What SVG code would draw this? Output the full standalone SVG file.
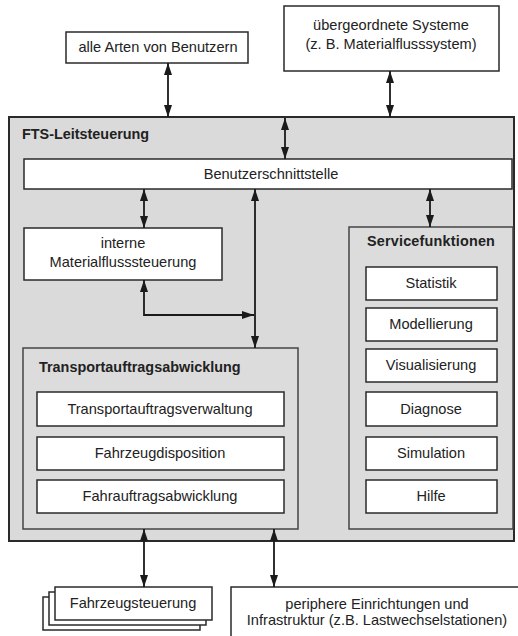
<svg xmlns="http://www.w3.org/2000/svg" width="518" height="636" viewBox="0 0 518 636">
<defs>
<marker id="ah" markerWidth="12" markerHeight="8" refX="12" refY="4" orient="auto-start-reverse" markerUnits="userSpaceOnUse">
<path d="M0,0 L12,4 L0,8 z" fill="#1a1a1a"/>
</marker>
<style>
.box{fill:#fff;stroke:#2a2a2a;stroke-width:1.5}
.grp{fill:#dcdcdc;stroke:#444;stroke-width:1.5}
.main{fill:#dadada;stroke:#2a2a2a;stroke-width:2}
.t{font-family:"Liberation Sans",Arial,sans-serif;font-size:14.6px;fill:#222;text-anchor:middle}
.b{font-family:"Liberation Sans",Arial,sans-serif;font-size:14.4px;font-weight:bold;fill:#222}
.c{fill:none;stroke:#1a1a1a;stroke-width:1.8}
</style>
</defs>
<rect width="518" height="636" fill="#fff"/>

<g id="benutzer">
<rect class="box" x="66" y="32" width="182" height="31"/>
<text class="t" x="158" y="52">alle Arten von Benutzern</text>
</g>
<g id="systeme">
<rect class="box" x="284" y="6" width="215" height="65"/>
<text class="t" x="391" y="30">übergeordnete Systeme</text>
<text class="t" x="391" y="49">(z. B. Materialflusssystem)</text>
</g>

<g id="leitsteuerung">
<rect class="main" x="9" y="117" width="505" height="424"/>
<text class="b" x="22" y="139">FTS-Leitsteuerung</text>
</g>

<g id="schnittstelle">
<rect class="box" x="24" y="159" width="488" height="30"/>
<text class="t" x="271" y="179">Benutzerschnittstelle</text>
</g>

<g id="interne">
<rect class="box" x="24" y="228" width="198" height="52"/>
<text class="t" x="123" y="248">interne</text>
<text class="t" x="123" y="267">Materialflusssteuerung</text>
</g>

<g id="service">
<rect class="grp" x="349" y="227" width="164" height="302"/>
<text class="b" x="431" y="246" text-anchor="middle" letter-spacing="0.2">Servicefunktionen</text>
</g>
<g id="statistik"><rect class="box" x="366" y="267" width="131" height="33"/><text class="t" x="431" y="288">Statistik</text></g>
<g id="modellierung"><rect class="box" x="366" y="308" width="131" height="33"/><text class="t" x="431" y="329">Modellierung</text></g>
<g id="visualisierung"><rect class="box" x="366" y="349" width="131" height="33"/><text class="t" x="431" y="370">Visualisierung</text></g>
<g id="diagnose"><rect class="box" x="366" y="392" width="131" height="34"/><text class="t" x="431" y="414">Diagnose</text></g>
<g id="simulation"><rect class="box" x="366" y="437" width="131" height="33"/><text class="t" x="431" y="458">Simulation</text></g>
<g id="hilfe"><rect class="box" x="366" y="480" width="131" height="33"/><text class="t" x="431" y="501">Hilfe</text></g>

<g id="transport">
<rect class="grp" x="23" y="348" width="275" height="181"/>
<text class="b" x="39" y="372">Transportauftragsabwicklung</text>
</g>
<g id="verwaltung"><rect class="box" x="37" y="392" width="247" height="34"/><text class="t" x="160" y="414">Transportauftragsverwaltung</text></g>
<g id="disposition"><rect class="box" x="37" y="437" width="247" height="33"/><text class="t" x="160" y="458">Fahrzeugdisposition</text></g>
<g id="fahrauftrag"><rect class="box" x="37" y="480" width="247" height="33"/><text class="t" x="160" y="501">Fahrauftragsabwicklung</text></g>

<g id="fahrzeugsteuerung">
<rect class="box" x="43" y="597" width="157" height="33"/>
<rect class="box" x="49" y="592" width="157" height="33"/>
<rect class="box" x="55" y="587" width="157" height="33"/>
<text class="t" x="133" y="608">Fahrzeugsteuerung</text>
</g>

<g id="peripherie">
<rect class="box" x="231" y="587" width="300" height="70"/>
<text class="t" x="377" y="609">periphere Einrichtungen und</text>
<text class="t" x="377" y="625">Infrastruktur (z.B. Lastwechselstationen)</text>
</g>

<g id="connectors">
<line class="c" x1="168" y1="63" x2="168" y2="117" marker-start="url(#ah)" marker-end="url(#ah)"/>
<line class="c" x1="390" y1="71" x2="390" y2="117" marker-start="url(#ah)" marker-end="url(#ah)"/>
<line class="c" x1="285" y1="118" x2="285" y2="159" marker-start="url(#ah)" marker-end="url(#ah)"/>
<line class="c" x1="144" y1="189" x2="144" y2="228" marker-start="url(#ah)" marker-end="url(#ah)"/>
<line class="c" x1="430" y1="189" x2="430" y2="227" marker-start="url(#ah)" marker-end="url(#ah)"/>
<line class="c" x1="255" y1="189" x2="255" y2="348" marker-start="url(#ah)" marker-end="url(#ah)"/>
<polyline class="c" points="144,280 144,315 254,315" marker-start="url(#ah)" marker-end="url(#ah)"/>
<line class="c" x1="144" y1="529" x2="144" y2="587" marker-start="url(#ah)" marker-end="url(#ah)"/>
<line class="c" x1="274" y1="529" x2="274" y2="587" marker-start="url(#ah)" marker-end="url(#ah)"/>
</g>
</svg>
